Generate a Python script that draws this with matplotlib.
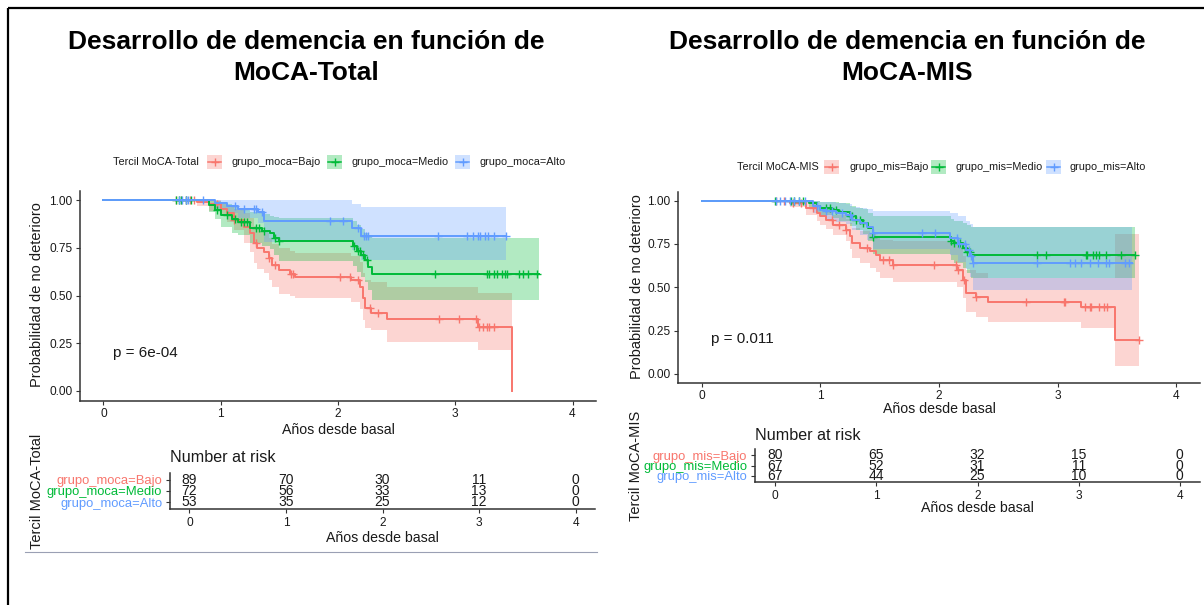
import matplotlib
matplotlib.use("Agg")
import matplotlib.pyplot as plt
import numpy as np
from matplotlib.patches import Rectangle

plt.rcParams["font.family"] = ["Liberation Sans", "DejaVu Sans"]

W, H = 1204, 605
COLORS = ["#F8766D", "#00BA38", "#619CFF"]
AXIS_COL = "#333333"

# ---------------- MoCA-Total ----------------
tot_labels = ["grupo_moca=Bajo", "grupo_moca=Medio", "grupo_moca=Alto"]

tot_bajo_time = [0, 0.80, 0.90, 1.00, 1.05, 1.11, 1.20, 1.25, 1.28, 1.31, 1.37, 1.41, 1.44, 1.50, 1.59, 1.63,
                 2.11, 2.19, 2.21, 2.23, 2.28, 2.42, 3.19, 3.48]
tot_bajo_surv = [1.00, 0.989, 0.977, 0.955, 0.930, 0.895, 0.860, 0.826, 0.773, 0.747, 0.730, 0.695, 0.660, 0.634,
                 0.613, 0.598, 0.580, 0.546, 0.485, 0.433, 0.410, 0.375, 0.337, 0.0]
tot_bajo_low = [1.00, 0.967, 0.945, 0.915, 0.885, 0.845, 0.775, 0.730, 0.670, 0.640, 0.620, 0.580, 0.545, 0.510,
                0.495, 0.487, 0.468, 0.430, 0.370, 0.330, 0.320, 0.258, 0.215, 0.0]
tot_bajo_up = [1.00, 1.00, 1.00, 0.99, 0.975, 0.955, 0.930, 0.905, 0.865, 0.845, 0.830, 0.800, 0.770, 0.750,
               0.735, 0.725, 0.705, 0.675, 0.620, 0.580, 0.570, 0.545, 0.515, 0.0]
tot_bajo_end = 3.48
tot_bajo_cens = [0.62, 0.66, 0.70, 0.74, 0.77, 0.97, 1.11, 1.30, 1.41, 1.46, 1.60, 1.62, 2.02, 2.10, 2.17, 2.27,
                 2.34, 2.86, 3.03, 3.18, 3.20, 3.24, 3.27, 3.29, 3.33]

tot_medio_time = [0, 0.90, 0.95, 1.00, 1.10, 1.15, 1.25, 1.35, 1.42, 1.45, 1.50, 2.13, 2.16, 2.20, 2.23, 2.26, 2.29]
tot_medio_surv = [1.00, 0.975, 0.948, 0.920, 0.900, 0.886, 0.853, 0.840, 0.827, 0.800, 0.785, 0.760, 0.735, 0.710,
                  0.686, 0.650, 0.612]
tot_medio_low = [1.00, 0.940, 0.900, 0.860, 0.830, 0.815, 0.775, 0.760, 0.745, 0.710, 0.680, 0.655, 0.625, 0.595,
                 0.570, 0.530, 0.476]
tot_medio_up = [1.00, 1.00, 0.995, 0.980, 0.965, 0.955, 0.935, 0.925, 0.918, 0.910, 0.906, 0.890, 0.870, 0.850,
                0.830, 0.810, 0.800]
tot_medio_end = 3.71
tot_medio_cens = [0.62, 0.64, 0.66, 0.70, 0.75, 0.97, 1.05, 1.12, 1.17, 1.20, 1.22, 1.30, 1.33, 1.37, 1.46, 1.50,
                  2.14, 2.17, 2.19, 2.21, 2.25, 2.83, 3.27, 3.29, 3.33, 3.36, 3.40, 3.42, 3.44, 3.54, 3.58, 3.62, 3.70]

tot_alto_time = [0, 0.95, 1.05, 1.15, 1.32, 1.37, 2.12, 2.20]
tot_alto_surv = [1.00, 0.985, 0.970, 0.955, 0.935, 0.890, 0.853, 0.810]
tot_alto_low = [1.00, 0.955, 0.930, 0.905, 0.880, 0.780, 0.740, 0.686]
tot_alto_up = [1.00, 1.00, 1.00, 1.00, 1.00, 1.00, 0.980, 0.965]
tot_alto_end = 3.43
tot_alto_cens = [0.64, 0.67, 0.70, 0.72, 0.85, 1.12, 1.20, 1.28, 1.30, 1.35, 1.93, 2.04, 2.17, 2.22, 2.24, 2.26,
                 2.85, 3.10, 3.15, 3.19, 3.21, 3.25, 3.28, 3.33, 3.43]

tot_pval = "p = 6e-04"
tot_risk_bajo = [89, 70, 30, 11, 0]
tot_risk_medio = [72, 56, 33, 13, 0]
tot_risk_alto = [53, 35, 25, 12, 0]

# ---------------- MoCA-MIS ----------------
mis_labels = ["grupo_mis=Bajo", "grupo_mis=Medio", "grupo_mis=Alto"]

mis_bajo_time = [0, 0.74, 0.88, 0.97, 1.00, 1.05, 1.11, 1.22, 1.25, 1.27, 1.33, 1.42, 1.47, 1.50, 1.61, 2.15,
                 2.20, 2.23, 2.31, 2.41, 3.20, 3.48]
mis_bajo_surv = [1.00, 0.987, 0.958, 0.930, 0.909, 0.890, 0.860, 0.830, 0.794, 0.755, 0.727, 0.707, 0.688, 0.659,
                 0.630, 0.600, 0.543, 0.466, 0.443, 0.418, 0.385, 0.193]
mis_bajo_low = [1.00, 0.962, 0.920, 0.885, 0.860, 0.835, 0.800, 0.765, 0.720, 0.670, 0.640, 0.610, 0.590, 0.555,
                0.530, 0.500, 0.440, 0.360, 0.330, 0.302, 0.264, 0.046]
mis_bajo_up = [1.00, 1.00, 0.995, 0.975, 0.960, 0.945, 0.920, 0.895, 0.870, 0.845, 0.825, 0.805, 0.790, 0.775,
               0.765, 0.735, 0.680, 0.600, 0.580, 0.555, 0.553, 0.810]
mis_bajo_end = 3.69
mis_bajo_cens = [0.63, 0.69, 0.77, 0.84, 0.94, 1.10, 1.16, 1.22, 1.39, 1.53, 1.58, 1.61, 1.96, 2.14, 2.16, 2.21,
                 2.31, 2.73, 3.05, 3.06, 3.23, 3.27, 3.28, 3.35, 3.39, 3.42, 3.69]

mis_medio_time = [0, 0.90, 0.97, 1.00, 1.10, 1.16, 1.25, 1.30, 1.36, 1.40, 1.44, 2.10, 2.13, 2.20, 2.24, 2.27]
mis_medio_surv = [1.00, 0.987, 0.970, 0.958, 0.948, 0.935, 0.910, 0.890, 0.870, 0.840, 0.790, 0.770, 0.755, 0.727,
                  0.705, 0.688]
mis_medio_low = [1.00, 0.960, 0.935, 0.915, 0.900, 0.885, 0.855, 0.830, 0.805, 0.770, 0.690, 0.660, 0.640, 0.610,
                 0.580, 0.553]
mis_medio_up = [1.00, 1.00, 1.00, 0.995, 0.990, 0.985, 0.970, 0.960, 0.950, 0.930, 0.910, 0.895, 0.880, 0.870,
                0.860, 0.850]
mis_medio_end = 3.65
mis_medio_cens = [0.62, 0.75, 0.78, 0.82, 0.85, 1.05, 1.08, 1.13, 1.25, 1.27, 1.30, 1.33, 1.36, 1.44, 2.10, 2.13,
                  2.16, 2.18, 2.22, 2.24, 2.26, 2.83, 2.90, 3.24, 3.25, 3.30, 3.32, 3.35, 3.41, 3.53, 3.65]

mis_alto_time = [0, 0.94, 1.00, 1.05, 1.13, 1.22, 1.27, 1.33, 1.39, 1.44, 2.09, 2.16, 2.23, 2.26, 2.29]
mis_alto_surv = [1.00, 0.970, 0.948, 0.940, 0.930, 0.920, 0.890, 0.870, 0.850, 0.813, 0.785, 0.750, 0.717, 0.680,
                 0.643]
mis_alto_low = [1.00, 0.930, 0.905, 0.890, 0.875, 0.865, 0.830, 0.800, 0.775, 0.720, 0.685, 0.645, 0.605, 0.560,
                0.486]
mis_alto_up = [1.00, 1.00, 0.995, 0.990, 0.985, 0.980, 0.965, 0.955, 0.950, 0.940, 0.930, 0.910, 0.880, 0.865,
               0.850]
mis_alto_end = 3.63
mis_alto_cens = [0.63, 0.66, 0.70, 0.74, 0.78, 0.82, 0.87, 0.97, 1.05, 1.10, 1.18, 1.25, 1.44, 1.86, 1.97, 2.15,
                 2.17, 2.22, 2.25, 2.27, 2.29, 2.83, 3.10, 3.15, 3.20, 3.27, 3.34, 3.41, 3.43, 3.57, 3.60]

mis_pval = "p = 0.011"
mis_risk_bajo = [80, 65, 32, 15, 0]
mis_risk_medio = [67, 52, 31, 11, 0]
mis_risk_alto = [67, 44, 25, 10, 0]

risk_times = [0, 1, 2, 3, 4]
y_ticks = [0, 0.25, 0.5, 0.75, 1.0]
y_ticklabels = ["0.00", "0.25", "0.50", "0.75", "1.00"]


def curve(time, surv, low, up, end, cens):
    return dict(time=time, surv=surv, low=low, up=up, end=end, cens=cens)


def px_rect(x0, y0, x1, y1):
    return [x0 / W, 1 - y1 / H, (x1 - x0) / W, (y1 - y0) / H]


def style_axes(ax):
    for s in ["top", "right"]:
        ax.spines[s].set_visible(False)
    for s in ["left", "bottom"]:
        ax.spines[s].set_color(AXIS_COL)
        ax.spines[s].set_linewidth(1.1)
    ax.tick_params(colors=AXIS_COL, labelcolor="#1a1a1a", labelsize=8.6, length=3, width=0.8, pad=2.5)
    ax.set_facecolor("none")


def draw_km(ax, curves, pval):
    for c, col in zip(curves, COLORS):
        t = list(c["time"]) + [c["end"]]
        lo = list(c["low"]) + [c["low"][-1]]
        up = list(c["up"]) + [c["up"][-1]]
        ax.fill_between(t, lo, up, step="post", color=col, alpha=0.3, lw=0)
    for c, col in zip(curves, COLORS):
        t = list(c["time"]) + [c["end"]]
        s = list(c["surv"]) + [c["surv"][-1]]
        ax.step(t, s, where="post", color=col, lw=1.4)
        idx = np.searchsorted(c["time"], c["cens"], side="right") - 1
        cy = np.asarray(c["surv"])[idx]
        ax.plot(c["cens"], cy, ls="none", marker="+", ms=6, mew=1.0, color=col)
    ax.set_xlim(-0.2, 4.2)
    ax.set_ylim(-0.05, 1.05)
    ax.set_xticks(risk_times)
    ax.set_yticks(y_ticks)
    ax.set_yticklabels(y_ticklabels)
    ax.text(0.08, 0.2, pval, fontsize=11, ha="left", va="center", color="#1a1a1a")
    style_axes(ax)


def draw_risk(ax, labels, rows):
    ys = [3, 2, 1]
    for vals, y in zip(rows, ys):
        for t, v in zip(risk_times, vals):
            ax.text(t, y, str(v), fontsize=10, ha="center", va="center", color="#1a1a1a")
    ax.set_xlim(-0.2, 4.2)
    ax.set_ylim(0.4, 3.6)
    ax.set_xticks(risk_times)
    ax.set_yticks(ys)
    ax.set_yticklabels(labels)
    style_axes(ax)
    ax.tick_params(axis="y", labelsize=9.4)
    for lab, col in zip(ax.get_yticklabels(), COLORS):
        lab.set_color(col)


tot_curves = [
    curve(tot_bajo_time, tot_bajo_surv, tot_bajo_low, tot_bajo_up, tot_bajo_end, tot_bajo_cens),
    curve(tot_medio_time, tot_medio_surv, tot_medio_low, tot_medio_up, tot_medio_end, tot_medio_cens),
    curve(tot_alto_time, tot_alto_surv, tot_alto_low, tot_alto_up, tot_alto_end, tot_alto_cens),
]
mis_curves = [
    curve(mis_bajo_time, mis_bajo_surv, mis_bajo_low, mis_bajo_up, mis_bajo_end, mis_bajo_cens),
    curve(mis_medio_time, mis_medio_surv, mis_medio_low, mis_medio_up, mis_medio_end, mis_medio_cens),
    curve(mis_alto_time, mis_alto_surv, mis_alto_low, mis_alto_up, mis_alto_end, mis_alto_cens),
]

fig = plt.figure(figsize=(W / 100, H / 100), dpi=100)

ax_km1 = fig.add_axes(px_rect(80, 190.5, 596, 400.5))
draw_km(ax_km1, tot_curves, tot_pval)
ax_rt1 = fig.add_axes(px_rect(170, 473, 595, 509))
draw_risk(ax_rt1, tot_labels, [tot_risk_bajo, tot_risk_medio, tot_risk_alto])

ax_km2 = fig.add_axes(px_rect(678, 192, 1200, 382.6))
draw_km(ax_km2, mis_curves, mis_pval)
ax_rt2 = fig.add_axes(px_rect(755, 449, 1200, 482))
draw_risk(ax_rt2, mis_labels, [mis_risk_bajo, mis_risk_medio, mis_risk_alto])

# overlay in pixel coordinates for titles, labels, legends and frame
ov = fig.add_axes([0, 0, 1, 1])
ov.set_xlim(0, W)
ov.set_ylim(H, 0)
ov.set_axis_off()

TXT = "#1a1a1a"
for cx, name in [(306, "MoCA-Total"), (907, "MoCA-MIS")]:
    ov.text(cx, 42, "Desarrollo de demencia en función de", fontsize=19, fontweight="bold", ha="center",
            va="center", color="black")
    ov.text(cx, 73, name, fontsize=19, fontweight="bold", ha="center", va="center", color="black")

# axis labels
ov.text(37, 295, "Probabilidad de no deterioro", rotation=90, fontsize=10.5, ha="center", va="center", color=TXT)
ov.text(637, 287, "Probabilidad de no deterioro", rotation=90, fontsize=10.5, ha="center", va="center", color=TXT)
ov.text(338, 430, "Años desde basal", fontsize=10.2, ha="center", va="center", color=TXT)
ov.text(939, 409, "Años desde basal", fontsize=10.2, ha="center", va="center", color=TXT)
ov.text(382, 538, "Años desde basal", fontsize=10.2, ha="center", va="center", color=TXT)
ov.text(977, 508, "Años desde basal", fontsize=10.2, ha="center", va="center", color=TXT)
ov.text(37, 491, "Tercil MoCA-Total", rotation=90, fontsize=10.5, ha="center", va="center", color=TXT)
ov.text(636, 466, "Tercil MoCA-MIS", rotation=90, fontsize=10.5, ha="center", va="center", color=TXT)
ov.text(170, 458, "Number at risk", fontsize=11.6, ha="left", va="center", color=TXT)
ov.text(755, 435, "Number at risk", fontsize=11.6, ha="left", va="center", color=TXT)


def legend(y, title_x, title, key_xs, label_xs, labels):
    ov.text(title_x, y, title, fontsize=7.8, ha="left", va="center", color=TXT)
    for kx, lx, lab, col in zip(key_xs, label_xs, labels, COLORS):
        ov.add_patch(Rectangle((kx, y - 7), 15, 14, facecolor=col, alpha=0.3, lw=0))
        ov.plot([kx + 1, kx + 14], [y, y], color=col, lw=1.1)
        ov.plot([kx + 7.5], [y], marker="+", ms=6, mew=1.0, color=col)
        ov.text(lx, y, lab, fontsize=7.8, ha="left", va="center", color=TXT)


legend(162, 113, "Tercil MoCA-Total", [207, 327, 455], [232, 352, 480], tot_labels)
legend(167, 737, "Tercil MoCA-MIS", [824, 931, 1046], [849, 955, 1070], mis_labels)

# frame lines and stray divider
ov.plot([8, W], [8, 8], color="black", lw=1.6, solid_capstyle="butt")
ov.plot([8, 8], [8, H], color="black", lw=1.6, solid_capstyle="butt")
ov.plot([25, 597], [552, 552], color="#9aa0b4", lw=0.8)

fig.savefig("out.png", dpi=100)
